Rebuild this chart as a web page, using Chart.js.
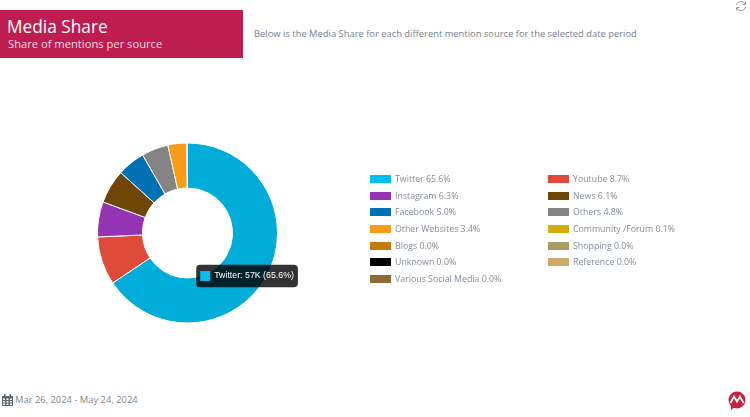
<!DOCTYPE html>
<html>
<head>
<meta charset="utf-8">
<script src="https://cdn.jsdelivr.net/npm/chart.js@4"></script>
<style>
html, body { margin: 0; padding: 0; background: #fff; }
body { position: relative; width: 750px; height: 417px; overflow: hidden; font-family: "Open Sans", sans-serif; }
#header { position: absolute; left: 0; top: 10px; width: 243px; height: 48px; background: #be1d50; color: #fff; }
#title { position: absolute; left: 7px; top: 5px; font-size: 17.3px; line-height: 24px; white-space: nowrap; }
#subtitle { position: absolute; left: 8px; top: 25px; font-size: 11.2px; line-height: 17px; color: #f4dbe3; white-space: nowrap; }
#intro { position: absolute; left: 254px; top: 26px; font-size: 9.4px; line-height: 16px; color: #76828e; white-space: nowrap; }
#chartBox { position: absolute; left: 0; top: 132.5px; width: 375px; height: 200px; }
.key { position: absolute; width: 21px; height: 8px; }
.keyText { position: absolute; font-size: 8.8px; line-height: 14px; color: #838d97; white-space: nowrap; }
#dates { position: absolute; left: 15px; top: 392px; font-size: 9.4px; line-height: 16px; color: #7f868d; white-space: nowrap; }
svg { position: absolute; }
</style>
</head>
<body>
<div id="header">
  <div id="title">Media Share</div>
  <div id="subtitle">Share of mentions per source</div>
</div>
<div id="intro">Below is the Media Share for each different mention source for the selected date period</div>
<div id="chartBox"><canvas id="mediaShareChart"></canvas></div>
<div id="legend"></div>
<div id="dates">Mar 26, 2024 - May 24, 2024</div>

<svg style="left:735px;top:0" width="12" height="12" viewBox="0 0 12 12" fill="none" stroke="#9a9a9a" stroke-width="1">
  <path d="M1.5 5A4.5 4.5 0 0 1 10 4M10.5 7A4.5 4.5 0 0 1 2 8"/>
  <path d="M10.5 1.5V4.5H7.5M1.5 10.5V7.5H4.5"/>
</svg>
<svg style="left:2px;top:394px" width="11" height="12" viewBox="0 0 11 12">
  <path fill="#5f6770" d="M0 2h11v10H0z"/>
  <path fill="#5f6770" d="M2 0h1.5v3H2zM7.5 0H9v3H7.5z"/>
  <path fill="#fff" d="M1 4.500h2v1.500H1zM4.500 4.500h2v1.500h-2zM8 4.500h2v1.500H8zM1 7h2v1.500H1zM4.500 7h2v1.500h-2zM8 7h2v1.500H8zM1 9.500h2V11H1zM4.500 9.500h2V11h-2zM8 9.500h2V11H8z"/>
</svg>
<svg style="left:728px;top:391px" width="18" height="19" viewBox="0 0 18 19">
  <circle cx="9" cy="9" r="8.500" fill="#c8203f"/>
  <path fill="#c8203f" d="M3 13l0 6 5-4z"/>
  <path fill="none" stroke="#fff" stroke-width="1.800" d="M2.500 12L6 5.500 9 10.500 12 5.500 15.500 12"/>
</svg>

<script>
const sources = ['Twitter', 'Youtube', 'Instagram', 'News', 'Facebook', 'Others', 'Other Websites',
    'Community /Forum', 'Blogs', 'Shopping', 'Unknown', 'Reference', 'Various Social Media'];
const shares = [65.6, 8.7, 6.3, 6.1, 5.0, 4.8, 3.4, 0.1, 0.0, 0.0, 0.0, 0.0, 0.0];
const mentions = [57000, 7560, 5470, 5300, 4340, 4170, 2950, 90, 0, 0, 0, 0, 0]; // estimated from the 57K label
const colors = ['#00bff0', '#e04a38', '#9433b3', '#6f4606', '#0070b5', '#848484', '#f79c14',
    '#d6ac0c', '#c27c0e', '#aa9b60', '#000000', '#cfa86c', '#8e6a34'];
const hoverColors = ['#00acd8', '#e04a38', '#9433b3', '#6f4606', '#0070b5', '#848484', '#f79c14',
    '#d6ac0c', '#c27c0e', '#aa9b60', '#000000', '#cfa86c', '#8e6a34'];

// Legend, two columns
const legendBox = document.getElementById('legend');
sources.forEach(function (name, i) {
    const col = i % 2;
    const row = Math.floor(i / 2);
    const key = document.createElement('div');
    key.className = 'key';
    key.style.left = (col ? 548 : 370) + 'px';
    key.style.top = (175 + row * 16.67) + 'px';
    key.style.background = colors[i];
    legendBox.appendChild(key);
    const text = document.createElement('div');
    text.className = 'keyText';
    text.style.left = (col ? 573 : 395) + 'px';
    text.style.top = (172 + row * 16.67) + 'px';
    text.textContent = name + ' ' + shares[i].toFixed(1) + '%';
    legendBox.appendChild(text);
});

// Create Media Share Chart
const ctx = document.getElementById('mediaShareChart').getContext('2d');
const mediaShareChart = new Chart(ctx, {
    type: 'doughnut',
    data: {
        labels: sources,
        datasets: [{
            data: shares,
            backgroundColor: colors,
            hoverBackgroundColor: hoverColors,
            borderColor: '#ffffff',
            hoverBorderColor: '#ffffff',
            borderWidth: 1,
            hoverBorderWidth: 1,
            hoverOffset: 0
        }]
    },
    options: {
        responsive: true,
        maintainAspectRatio: false,
        animation: false,
        radius: 90,
        cutout: '50%',
        plugins: {
            legend: { display: false },
            tooltip: {
                animation: false,
                backgroundColor: 'rgba(0,0,0,0.8)',
                xAlign: 'center',
                yAlign: 'top',
                caretSize: 0,
                caretPadding: 0,
                cornerRadius: 4,
                padding: { x: 4, y: 6 },
                boxWidth: 10,
                boxHeight: 10,
                boxPadding: 2,
                multiKeyBackground: colors[0],
                bodyFont: { family: 'Liberation Sans', size: 8.8 },
                bodyColor: '#ffffff',
                callbacks: {
                    title: function () {
                        return '';
                    },
                    label: function (item) {
                        const i = item.dataIndex;
                        return sources[i] + ': ' + Math.round(mentions[i] / 1000) + 'K (' + shares[i].toFixed(1) + '%)';
                    },
                    labelColor: function (item) {
                        return { backgroundColor: colors[item.dataIndex], borderColor: 'rgba(0,0,0,0)', borderWidth: 0 };
                    }
                }
            }
        }
    }
});

// Show the Twitter tooltip as in the screenshot
const activeSlice = [{ datasetIndex: 0, index: 0 }];
mediaShareChart.setActiveElements(activeSlice);
mediaShareChart.tooltip.setActiveElements(activeSlice, { x: 247, y: 132 });
mediaShareChart.update();
</script>
</body>
</html>
